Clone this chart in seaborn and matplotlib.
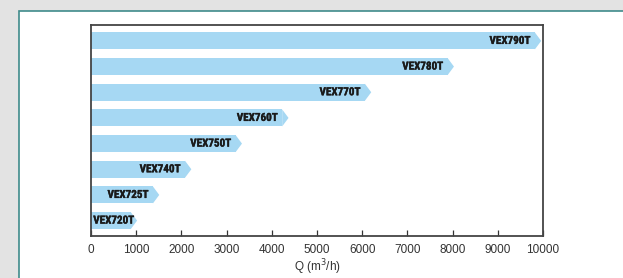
import matplotlib
matplotlib.use("Agg")
import matplotlib.pyplot as plt
from matplotlib.patches import Rectangle, Polygon
from matplotlib import font_manager
import matplotlib.patheffects as pe
import pandas as pd
import seaborn as sns

models = ["VEX790T", "VEX780T", "VEX770T", "VEX760T", "VEX750T", "VEX740T", "VEX725T", "VEX720T"]
q_max = [9820, 7890, 6060, 4230, 3200, 2080, 1370, 880]
x_ticks = [0, 1000, 2000, 3000, 4000, 5000, 6000, 7000, 8000, 9000, 10000]

df = pd.DataFrame({"model": models, "q": q_max})

sns.set_theme(style="white")
plt.rcParams["font.family"] = ["Liberation Sans", "DejaVu Sans"]

installed = {f.name for f in font_manager.fontManager.ttflist}
if "Roboto Condensed" in installed:
    label_font, label_size = "Roboto Condensed", 8
elif "Liberation Sans Narrow" in installed:
    label_font, label_size = "Liberation Sans Narrow", 8
else:
    label_font, label_size = "Liberation Sans", 6.6

fig = plt.figure(figsize=(6.23, 2.78), dpi=100, facecolor="#e3e3e3")
# white panel with teal frame
fig.patches.append(Rectangle((19 / 623, -0.1), 1.0, (278 - 11) / 278 + 0.1,
                             transform=fig.transFigure, facecolor="white",
                             edgecolor="#3f8b8b", linewidth=1.2, zorder=-10))

ax = fig.add_axes([91 / 623, 42 / 278, 452 / 623, 211 / 278])
ax.set_facecolor("none")
bar_color = "#a6d8f3"
sns.barplot(data=df, x="q", y="model", orient="h", color=bar_color,
            width=0.66, saturation=1, ax=ax)

tip = 140
bold = [pe.withStroke(linewidth=0.25, foreground="#1a1a1a")]
for patch, v, name in zip(ax.patches, q_max, models):
    y0 = patch.get_y()
    h = patch.get_height()
    patch.set_linewidth(0)
    ax.add_patch(Polygon([(v, y0), (v + tip, y0 + h / 2), (v, y0 + h)],
                         closed=True, facecolor=bar_color, edgecolor="none"))
    if v > 1000:
        ax.text(v - 100, y0 + h / 2, name, ha="right", va="center", path_effects=bold,
                fontsize=label_size, fontweight="bold", color="#1a1a1a", family=label_font)
    else:
        ax.text(50, y0 + h / 2, name, ha="left", va="center", path_effects=bold,
                fontsize=label_size, fontweight="bold", color="#1a1a1a", family=label_font)

ax.set_xlim(0, 10000)
ax.set_ylim(7.6, -0.62)
ax.set_xticks(x_ticks)
ax.set_xticklabels([str(t) for t in x_ticks], fontsize=8.5, color="#333333")
ax.set_yticks([])
ax.set_ylabel("")
ax.set_xlabel("Q (m$^3$/h)", fontsize=8.5, color="#333333", labelpad=1)
ax.tick_params(axis="x", direction="in", length=4, width=0.9, color="#333333", pad=6, bottom=True)
for s in ax.spines.values():
    s.set_color("#444444")
    s.set_linewidth(1.3)

fig.savefig("out.png", dpi=100, facecolor=fig.get_facecolor())
